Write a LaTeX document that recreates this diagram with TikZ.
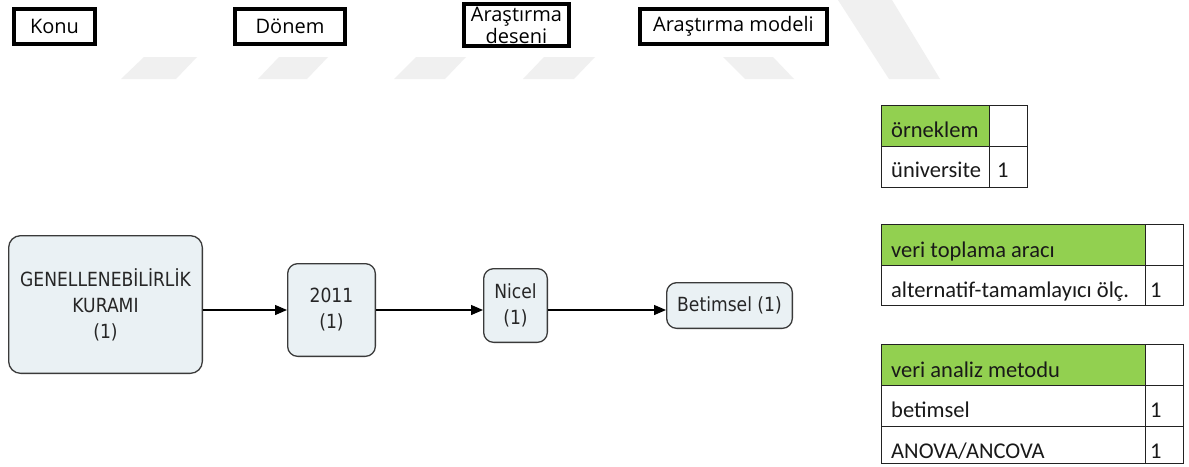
\documentclass[tikz,border=0pt]{standalone}
\usepackage{fontspec}
\setmainfont{Open Sans}
\newfontfamily\flowfont[FakeStretch=0.88]{DejaVu Sans}
\newfontfamily\tabfont{Carlito}
\usetikzlibrary{arrows.meta}
\definecolor{wm}{HTML}{F0F0F0}
\definecolor{flowfill}{HTML}{EAF1F4}
\definecolor{flowline}{HTML}{3A3A3A}
\definecolor{hdrgreen}{HTML}{92D050}
\definecolor{tabline}{HTML}{222222}
\tikzset{
  headbox/.style={draw=black, line width=3.7pt, fill=white, inner sep=0pt, align=center,
    font=\fontsize{20}{22}\selectfont},
  flowbox/.style={draw=flowline, line width=1.3pt, fill=flowfill, rounded corners=10pt,
    inner sep=0pt, align=center, text=black!85, font=\flowfont\fontsize{19.5}{26}\selectfont},
  arr/.style={draw=black, line width=1.3pt, -{Triangle[length=12pt,width=10pt]}},
  tabtext/.style={inner sep=0pt, anchor=base west, text=black!90, font=\tabfont\fontsize{22.5}{26}\selectfont},
  tabgrid/.style={draw=tabline, line width=1pt},
}
\begin{document}
\begin{tikzpicture}[x=1pt,y=-1pt]
\useasboundingbox[fill=white] (0,0) rectangle (1189,466);
% watermark
\fill[wm] (144,57) -- (197,57) -- (176,79) -- (121,79) -- cycle;
\fill[wm] (279,57) -- (328,57) -- (307,79) -- (258,79) -- cycle;
\fill[wm] (416,57) -- (466,57) -- (445,79) -- (394,79) -- cycle;
\fill[wm] (544,57) -- (595,57) -- (574,79) -- (523,79) -- cycle;
\fill[wm] (723,57) -- (773,57) -- (794,79) -- (745,79) -- cycle;
\fill[wm] (838,0) -- (892,0) -- (940,79) -- (889,79) -- cycle;
% header boxes
\node[headbox, minimum width=81.3pt, minimum height=35.3pt] (konu) at (54.5,26.5) {Konu};
\node[headbox, minimum width=110.3pt, minimum height=35.3pt] (donem) at (290,26.5) {Dönem};
\node[headbox, minimum width=105.3pt, minimum height=42.3pt] (desen) at (516.5,25) {Araştırma\\deseni};
\node[headbox, minimum width=187.3pt, minimum height=35.3pt] (model) at (733.5,26.5) {Araştırma modeli};
% flow
\node[flowbox, rounded corners=12pt, minimum width=193.7pt, minimum height=137.7pt] (gen) at (105.5,304.5)
  {GENELLENEBİLİRLİK\\KURAMI\\(1)};
\node[flowbox, minimum width=87.7pt, minimum height=92.7pt] (d) at (331.5,310) {2011\\(1)};
\node[flowbox, minimum width=63.7pt, minimum height=73.7pt] (n) at (515.5,305.5) {Nicel\\(1)};
\node[flowbox, minimum width=125.7pt, minimum height=45.7pt] (b) at (729.5,305.5) {Betimsel (1)};
\draw[arr] (gen.east |- d.west) -- (d.west);
\draw[arr] (d.east) -- (n.west |- d.east);
\draw[arr] (n.east |- d.east) -- (b.west |- d.east);
% table 1
\fill[hdrgreen] (881,105) rectangle (989,146);
\draw[tabgrid] (881,105) rectangle (1027,187);
\draw[tabgrid] (989,105) -- (989,187);
\draw[tabgrid] (881,146) -- (1027,146);
\node[tabtext] (t1h) at (891,137) {örneklem};
\node[tabtext] (t1a) at (891,177) {üniversite};
\node[tabtext] (t1v) at (997,177) {1};
% table 2
\fill[hdrgreen] (881,224) rectangle (1145,265);
\draw[tabgrid] (881,224) rectangle (1183,305);
\draw[tabgrid] (1145,224) -- (1145,305);
\draw[tabgrid] (881,265) -- (1183,265);
\node[tabtext] (t2h) at (891,257) {veri toplama aracı};
\node[tabtext] (t2a) at (891,297) {alternatif-tamamlayıcı ölç.};
\node[tabtext] (t2v) at (1150,297) {1};
% table 3
\fill[hdrgreen] (881,344) rectangle (1145,385);
\draw[tabgrid] (881,344) rectangle (1183,463);
\draw[tabgrid] (1145,344) -- (1145,463);
\draw[tabgrid] (881,385) -- (1183,385);
\draw[tabgrid] (881,426) -- (1183,426);
\node[tabtext] (t3h) at (891,377) {veri analiz metodu};
\node[tabtext] (t3a) at (891,417) {betimsel};
\node[tabtext] (t3v1) at (1150,417) {1};
\node[tabtext] (t3b) at (891,458) {ANOVA/ANCOVA};
\node[tabtext] (t3v2) at (1150,458) {1};
\end{tikzpicture}
\end{document}
